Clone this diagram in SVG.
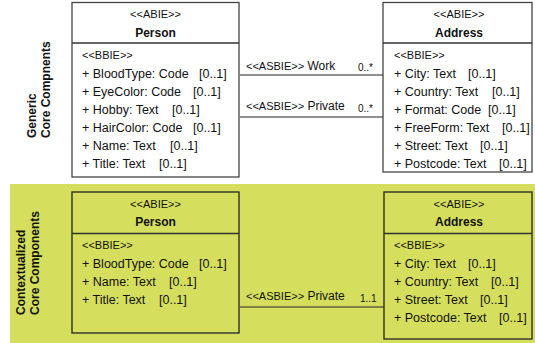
<svg xmlns="http://www.w3.org/2000/svg" width="535" height="343" viewBox="0 0 535 343">
<style>
text{font-family:"Liberation Sans",Arial,sans-serif;fill:#111}
.st{font-size:11px}
.ti{font-size:12px;font-weight:bold}
.it{font-size:12.5px}
.lt{font-size:12px}
.mu{font-size:10px}
.lab{font-size:12px;font-weight:bold}
.box{fill:#fff;stroke:#444;stroke-width:1.3}
.gbox{fill:#d5df5d;stroke:#222;stroke-width:1.3}
.div{stroke:#333;stroke-width:1.3}
.con{stroke:#222;stroke-width:1.2;fill:none}
</style>
<rect x="10" y="184" width="525" height="159" fill="#d5df5d"/>
<g id="label-generic">
<text class="lab" transform="translate(36,138) rotate(-90)">Generic</text>
<text class="lab" transform="translate(50,138) rotate(-90)">Core Compnents</text>
</g>
<g id="label-contextualized">
<text class="lab" transform="translate(25,315) rotate(-90)">Contextualized</text>
<text class="lab" transform="translate(39,315) rotate(-90)">Core Components</text>
</g>
<g id="connectors">
<line class="con" x1="240" y1="75" x2="383" y2="75"/>
<line class="con" x1="240" y1="117" x2="383" y2="117"/>
<line class="con" x1="240" y1="307" x2="384" y2="307"/>
<text x="246" y="70"><tspan class="st">&lt;&lt;ASBIE&gt;&gt;</tspan><tspan class="lt"> Work</tspan></text>
<text class="mu" x="358" y="71">0..*</text>
<text x="246" y="110"><tspan class="st">&lt;&lt;ASBIE&gt;&gt;</tspan><tspan class="lt"> Private</tspan></text>
<text class="mu" x="358" y="112">0..*</text>
<text x="246" y="300"><tspan class="st">&lt;&lt;ASBIE&gt;&gt;</tspan><tspan class="lt"> Private</tspan></text>
<text class="mu" x="360" y="302">1..1</text>
</g>
<g id="person-generic">
<rect class="box" x="72" y="2.5" width="167" height="174.5"/>
<line class="div" x1="72" y1="43" x2="239" y2="43"/>
<text class="st" x="155.5" y="18" text-anchor="middle">&lt;&lt;ABIE&gt;&gt;</text>
<text class="ti" x="155.5" y="37" text-anchor="middle">Person</text>
<text class="st" x="82" y="59">&lt;&lt;BBIE&gt;&gt;</text>
<text class="it" x="82" y="78">+ BloodType: Code</text><text class="it" x="199" y="78">[0..1]</text>
<text class="it" x="82" y="96">+ EyeColor: Code</text><text class="it" x="193" y="96">[0..1]</text>
<text class="it" x="82" y="114">+ Hobby: Text</text><text class="it" x="172" y="114">[0..1]</text>
<text class="it" x="82" y="132">+ HairColor: Code</text><text class="it" x="193" y="132">[0..1]</text>
<text class="it" x="82" y="150">+ Name: Text</text><text class="it" x="170" y="150">[0..1]</text>
<text class="it" x="82" y="168">+ Title: Text</text><text class="it" x="159" y="168">[0..1]</text>
</g>
<g id="address-generic">
<rect class="box" x="383" y="2.5" width="149" height="169.5"/>
<line class="div" x1="383" y1="43" x2="532" y2="43"/>
<text class="st" x="459" y="18" text-anchor="middle">&lt;&lt;ABIE&gt;&gt;</text>
<text class="ti" x="459" y="37" text-anchor="middle">Address</text>
<text class="st" x="394" y="59">&lt;&lt;BBIE&gt;&gt;</text>
<text class="it" x="394" y="78">+ City: Text</text><text class="it" x="468" y="78">[0..1]</text>
<text class="it" x="394" y="96">+ Country: Text</text><text class="it" x="492" y="96">[0..1]</text>
<text class="it" x="394" y="114">+ Format: Code</text><text class="it" x="488" y="114">[0..1]</text>
<text class="it" x="394" y="132">+ FreeForm: Text</text><text class="it" x="502" y="132">[0..1]</text>
<text class="it" x="394" y="150">+ Street: Text</text><text class="it" x="480" y="150">[0..1]</text>
<text class="it" x="394" y="168">+ Postcode: Text</text><text class="it" x="499" y="168">[0..1]</text>
</g>
<g id="person-contextualized">
<rect class="gbox" x="72" y="192" width="167" height="141"/>
<line class="div" x1="72" y1="233.5" x2="239" y2="233.5"/>
<text class="st" x="155.5" y="208" text-anchor="middle">&lt;&lt;ABIE&gt;&gt;</text>
<text class="ti" x="155.5" y="226" text-anchor="middle">Person</text>
<text class="st" x="82" y="249">&lt;&lt;BBIE&gt;&gt;</text>
<text class="it" x="82" y="268">+ BloodType: Code</text><text class="it" x="199" y="268">[0..1]</text>
<text class="it" x="82" y="286">+ Name: Text</text><text class="it" x="169" y="286">[0..1]</text>
<text class="it" x="82" y="304">+ Title: Text</text><text class="it" x="159" y="304">[0..1]</text>
</g>
<g id="address-contextualized">
<rect class="gbox" x="384" y="192" width="148" height="147"/>
<line class="div" x1="384" y1="233.5" x2="532" y2="233.5"/>
<text class="st" x="459" y="208" text-anchor="middle">&lt;&lt;ABIE&gt;&gt;</text>
<text class="ti" x="459" y="226" text-anchor="middle">Address</text>
<text class="st" x="394" y="249">&lt;&lt;BBIE&gt;&gt;</text>
<text class="it" x="394" y="268">+ City: Text</text><text class="it" x="468" y="268">[0..1]</text>
<text class="it" x="394" y="286">+ Country: Text</text><text class="it" x="491" y="286">[0..1]</text>
<text class="it" x="394" y="304">+ Street: Text</text><text class="it" x="480" y="304">[0..1]</text>
<text class="it" x="394" y="322">+ Postcode: Text</text><text class="it" x="499" y="322">[0..1]</text>
</g>
</svg>
